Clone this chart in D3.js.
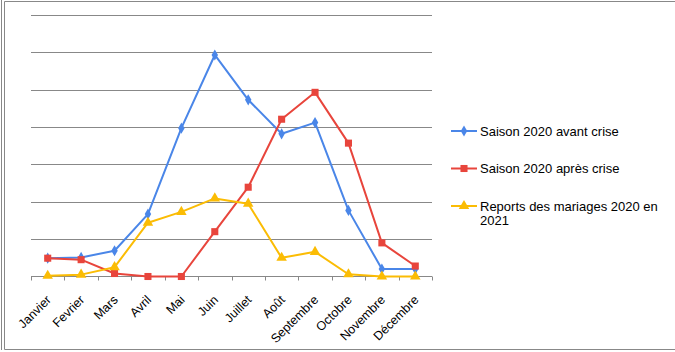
<!DOCTYPE html>
<html><head><meta charset="utf-8">
<script src="https://cdn.jsdelivr.net/npm/d3@7"></script>
<style>body{margin:0;background:#fff;}svg{display:block;font-family:"Liberation Sans",Arial,sans-serif;}</style>
</head><body>
<svg id="c" width="675" height="352"></svg>
<script>
const months = ["Janvier","Fevrier","Mars","Avril","Mai","Juin","Juillet","Août","Septembre","Octobre","Novembre","Décembre"];
const avantCrise = [0.49,0.51,0.69,1.67,3.97,5.93,4.73,3.82,4.12,1.77,0.2,0.2];
const apresCrise = [0.49,0.45,0.08,0,0,1.2,2.39,4.21,4.93,3.57,0.9,0.28];
const reports = [0.02,0.05,0.25,1.44,1.73,2.09,1.95,0.5,0.66,0.06,0,0];
const seriesNames = ["Saison 2020 avant crise","Saison 2020 après crise","Reports des mariages 2020 en 2021"];
const colors = ["#4a86e8","#e8453c","#fbbc04"];
const yTicks = [0,1,2,3,4,5,6,7];

const svg = d3.select("#c");
// frame
svg.append("line").attr("x1",1.5).attr("x2",1.5).attr("y1",0).attr("y2",350).attr("stroke","#888");
svg.append("path").attr("d","M675,1.5H4.5V349.5H675").attr("fill","none").attr("stroke","#888");

const x = d3.scaleBand().domain(months).range([31,432]);
const y = d3.scaleLinear().domain([0,7]).range([276.5,15]);

// gridlines
svg.append("g").selectAll("line").data(yTicks.slice(1)).join("line")
  .attr("x1",31).attr("x2",432).attr("y1",d=>Math.round(y(d))+0.5).attr("y2",d=>Math.round(y(d))+0.5)
  .attr("stroke","#888").attr("stroke-width",1);

// x axis
const ax = svg.append("g").attr("transform","translate(0,276.5)");
ax.append("line").attr("x1",31).attr("x2",432).attr("stroke","#888");
const bounds = months.map(m=>x(m)).concat([432]);
ax.selectAll("line.t").data(bounds).join("line").attr("class","t")
  .attr("x1",d=>Math.round(d)+0.5).attr("x2",d=>Math.round(d)+0.5).attr("y1",0).attr("y2",4).attr("stroke","#888");
ax.selectAll("text").data(months).join("text")
  .attr("transform",d=>`translate(${x(d)+x.bandwidth()/2+1},21) rotate(-45)`)
  .attr("text-anchor","end").attr("dy","0.35em")
  .attr("font-size",12.5).attr("fill","#000").text(d=>d);

const data = [avantCrise, apresCrise, reports];
const line = d3.line().x((d,i)=>x(months[i])+x.bandwidth()/2).y(d=>y(d));
const symbols = [d3.symbolDiamond, d3.symbolSquare, d3.symbolTriangle];
const sizes = [36, 50, 48];

data.forEach((s,k)=>{
  svg.append("path").datum(s).attr("d",line).attr("fill","none")
    .attr("stroke",colors[k]).attr("stroke-width",2).attr("stroke-linejoin","round");
});
data.forEach((s,k)=>{
  svg.append("g").selectAll("path").data(s).join("path")
    .attr("transform",(d,i)=>`translate(${x(months[i])+x.bandwidth()/2},${y(d)})`)
    .attr("d",d3.symbol().type(symbols[k]).size(sizes[k]))
    .attr("fill",colors[k]);
});

// legend
const lg = svg.append("g");
const ly = [131,168.5,206];
seriesNames.forEach((n,k)=>{
  const g = lg.append("g").attr("transform",`translate(0,${ly[k]})`);
  g.append("line").attr("x1",451).attr("x2",477).attr("stroke",colors[k]).attr("stroke-width",2);
  g.append("path").attr("transform","translate(464,0)").attr("d",d3.symbol().type(symbols[k]).size(sizes[k])).attr("fill",colors[k]);
  const t = g.append("text").attr("x",480).attr("dy","0.35em").attr("font-size",13).attr("fill","#000");
  if(k===2){
    t.append("tspan").attr("x",480).text("Reports des mariages 2020 en");
    t.append("tspan").attr("x",480).attr("dy","1.1em").text("2021");
  } else t.text(n);
});
</script>
</body></html>
